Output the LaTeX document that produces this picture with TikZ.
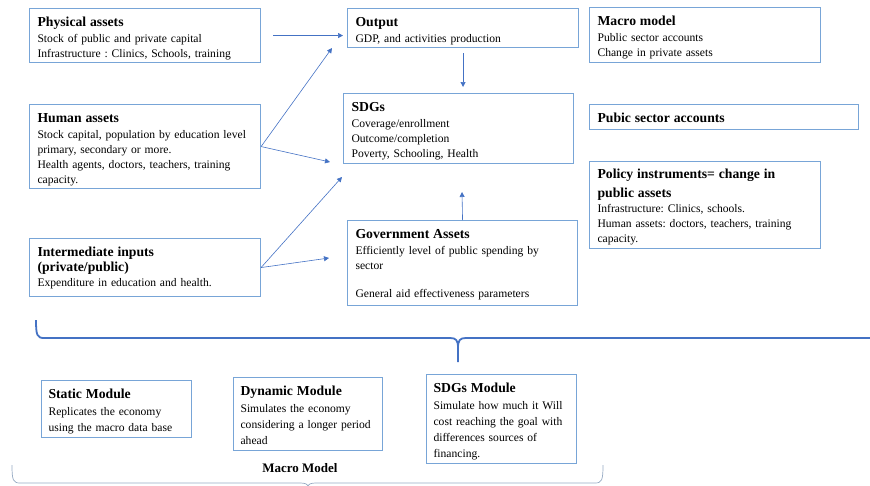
\documentclass[tikz,border=0pt]{standalone}
\usepackage{fontspec}
\setmainfont{Liberation Serif}
\usetikzlibrary{arrows.meta}

\definecolor{boxblue}{RGB}{120,165,215}
\definecolor{lineblue}{RGB}{68,114,196}
\definecolor{bracegray}{RGB}{150,170,195}

\newcommand{\ttl}[1]{{\fontsize{13.7}{18}\selectfont\bfseries #1}}

\tikzset{
  box/.style={draw=boxblue, line width=1.1pt, anchor=north west, align=left,
    inner xsep=8pt, inner ysep=0pt, text height=18pt,
    font=\fontsize{11.6}{15}\selectfont\frenchspacing},
  modbox/.style={box, inner xsep=7pt, font=\fontsize{11.6}{16}\selectfont\frenchspacing},
  arr/.style={lineblue, line width=0.6pt, -{Triangle[length=5pt,width=5pt]}},
}

\begin{document}
\begin{tikzpicture}[x=1pt, y=-1pt]

\useasboundingbox (0,0) rectangle (870,485);
\clip (0,0) rectangle (870,485);

% coluna da esquerda
\node[box, text width=215pt, text depth=36pt] (phys) at (29,8)
  {\ttl{Physical assets}\\[1pt]
   Stock of public and private capital\\
   Infrastructure : Clinics, Schools, training};
\node[box, text width=215pt, text depth=66pt] (hum) at (29,104)
  {\ttl{Human assets}\\[1pt]
   Stock capital, population by education level\\
   primary, secondary or more.\\
   Health agents, doctors, teachers, training\\
   capacity.};
\node[box, text width=215pt, text depth=40pt] (inter) at (29,238)
  {\ttl{Intermediate inputs}\\
   \ttl{(private/public)}\\
   Expenditure in education and health.};

% coluna do meio
\node[box, text width=215pt, text depth=21pt] (out) at (347,8)
  {\ttl{Output}\\[1pt]
   GDP, and activities production};
\node[box, text width=214pt, text depth=52pt] (sdg) at (343,93)
  {\ttl{SDGs}\\[1pt]
   Coverage/enrollment\\
   Outcome/completion\\
   Poverty, Schooling, Health};
\node[box, text width=214pt, text depth=67pt] (gov) at (347,220)
  {\ttl{Government Assets}\\[1pt]
   Efficiently level of public spending by\\
   sector\\[13pt]
   General aid effectiveness parameters};

% coluna da direita
\node[box, text width=215pt, text depth=37pt] (macro) at (589,7)
  {\ttl{Macro model}\\[1pt]
   Public sector accounts\\
   Change in private assets};
\node[box, text width=253pt, text depth=7pt] (pub) at (589,104)
  {\ttl{Pubic sector accounts}};
\node[box, text width=215pt, text height=17pt, text depth=70pt] (pol) at (589,161)
  {\ttl{Policy instruments= change in}\\[4pt]
   \ttl{public assets}\\
   Infrastructure: Clinics, schools.\\
   Human assets: doctors, teachers, training\\
   capacity.};

% pontas livres das setas
\coordinate (hum-out) at (332,48);
\coordinate (hum-sdg) at (330,162);
\coordinate (int-sdg) at (342,177);
\coordinate (int-gov) at (329,258);
\coordinate (gov-sdg) at (462,192);

% setas
\draw[arr, shorten <=12pt, shorten >=4pt] (phys.east) -- (phys.east -| out.west);
\draw[arr] (hum.east) -- (hum-out);
\draw[arr] (hum.east) -- (hum-sdg);
\draw[arr] (inter.east) -- (int-sdg);
\draw[arr] (inter.east) -- (int-gov);
\draw[arr, shorten <=5pt, shorten >=6pt] (out.south) -- (out.south |- sdg.north);
\draw[arr] (gov.north) -- (gov-sdg);

% chave grande
\draw[lineblue, line width=1.8pt]
  (36,320) .. controls (36,335) and (37,338) .. (44,338) -- (450,338)
  .. controls (456,338) and (458,340) .. (458,348) -- (458,362);
\draw[lineblue, line width=1.8pt]
  (458,348) .. controls (458,340) and (460,338) .. (466,338) -- (875,338);

% modulos
\node[modbox, text width=136pt, text depth=39pt] (static) at (41,380)
  {\ttl{Static Module}\\[1pt]
   Replicates the economy\\
   using the macro data base};
\node[modbox, text width=135pt, text depth=55pt] (dyn) at (233,377)
  {\ttl{Dynamic Module}\\[1pt]
   Simulates the economy\\
   considering a longer period\\
   ahead};
\node[modbox, text width=136pt, text depth=71pt] (sdgmod) at (426,374)
  {\ttl{SDGs Module}\\[1pt]
   Simulate how much it Will\\
   cost reaching the goal with\\
   differences sources of\\
   financing.};

\node[font=\fontsize{13}{16}\selectfont\bfseries] (mm) at (300,468) {Macro Model};

% chave de baixo
\draw[bracegray, line width=0.7pt]
  (12,465) .. controls (12,480) and (13,483) .. (20,483) -- (300,483)
  .. controls (305,483) and (308,484) .. (308,487);
\draw[bracegray, line width=0.7pt]
  (308,487) .. controls (308,484) and (311,483) .. (316,483) -- (595,483)
  .. controls (602,483) and (603,480) .. (603,465);

\end{tikzpicture}
\end{document}
